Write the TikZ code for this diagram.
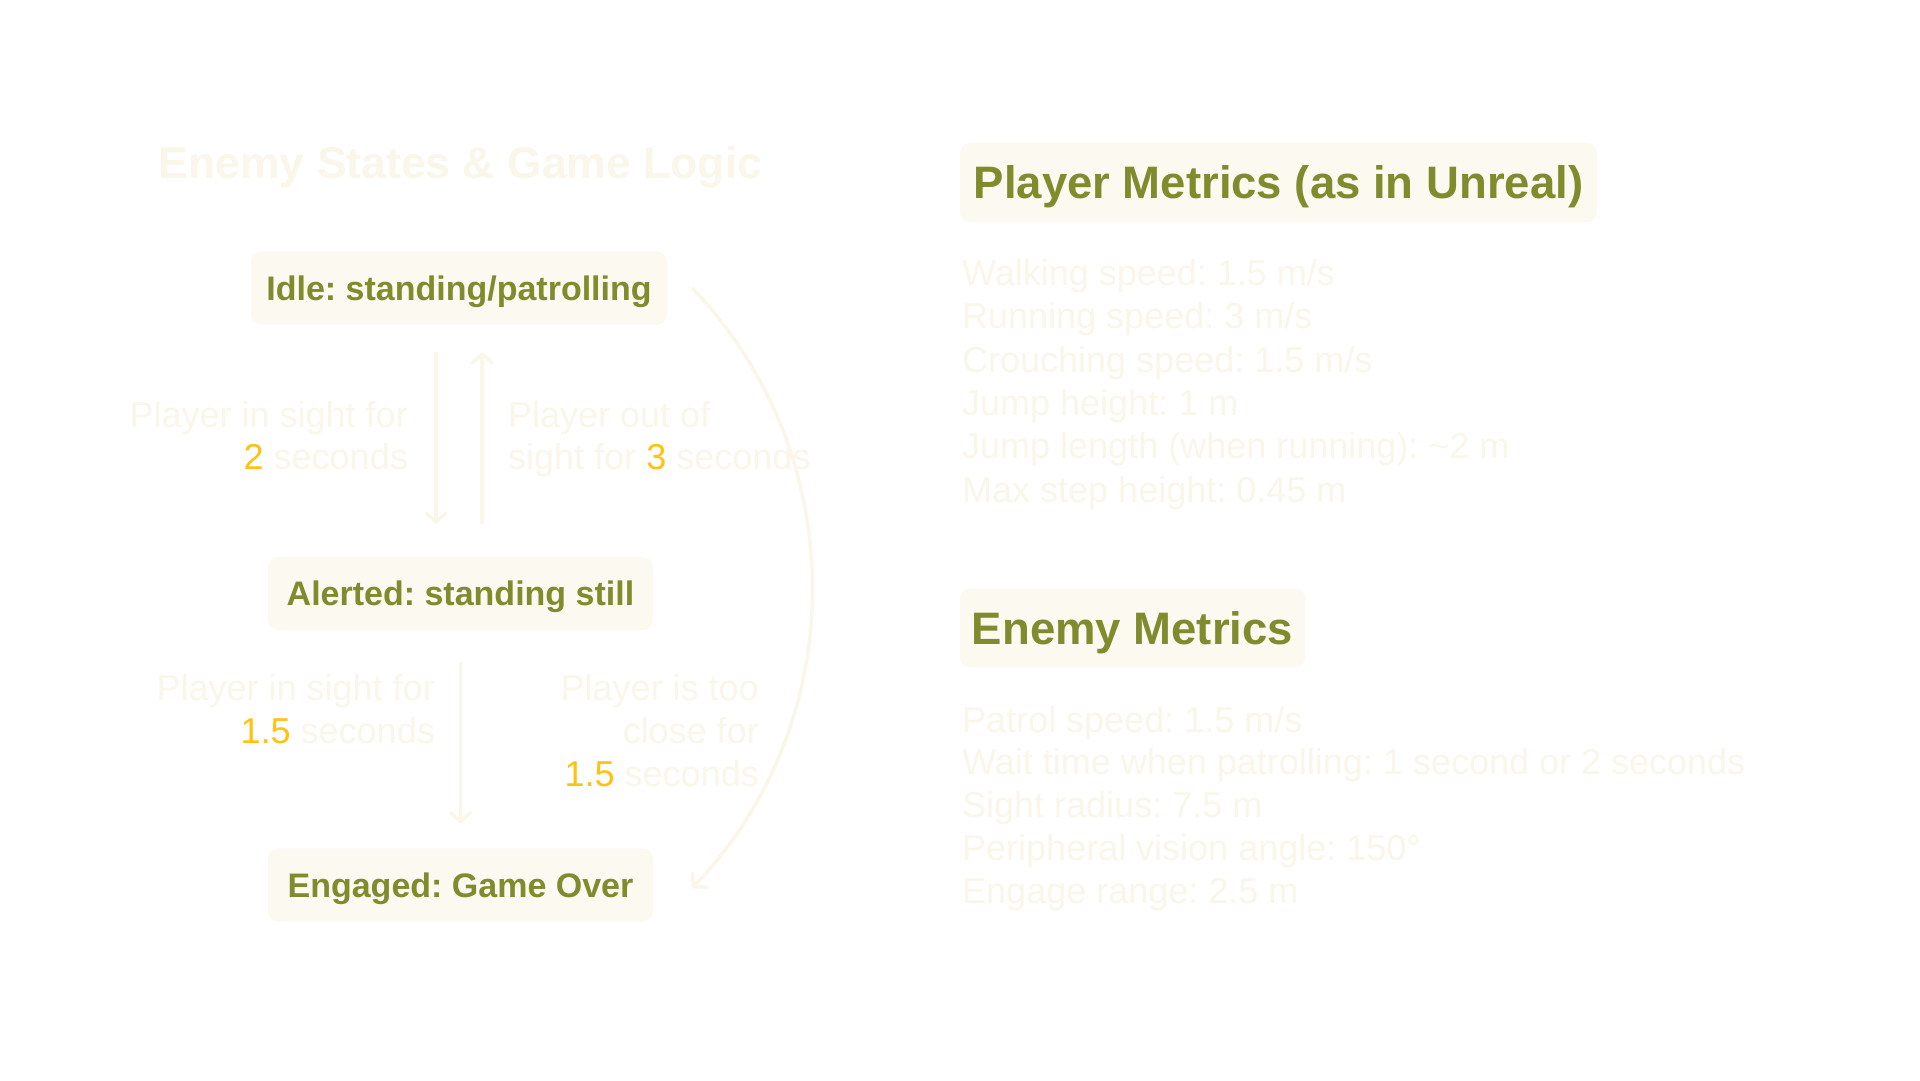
\documentclass[tikz,border=0pt]{standalone}
\usepackage{fontspec}
\setmainfont{Liberation Sans}
\frenchspacing
\usetikzlibrary{
  arrows.meta,
  positioning
}
\definecolor{olive}{HTML}{808B2E}
\definecolor{cream}{HTML}{FCF9F1}
\definecolor{faint}{HTML}{FAF6EA}
\definecolor{accent}{HTML}{FFC20E}
\tikzset{
  font=\rmfamily,
  state/.style={
    fill=cream,
    rounded corners=10pt,
    text=olive,
    font=\rmfamily\bfseries\fontsize{34}{40}\selectfont,
    minimum width=385pt,
    minimum height=73pt,
    text height=24.3pt,
    text depth=0pt,
    inner sep=0pt
  },
  heading/.style={
    fill=cream,
    rounded corners=10pt,
    text=olive,
    font=\rmfamily\bfseries\fontsize{45.5}{52}\selectfont,
    minimum height=79pt,
    text height=32.6pt,
    text depth=0pt,
    inner sep=0pt
  },
  title/.style={text=faint, font=\rmfamily\bfseries\fontsize{44.5}{52}\selectfont, inner sep=0pt},
  cond/.style={text=faint, font=\rmfamily\fontsize{36}{42}\selectfont, inner sep=0pt},
  metric list/.style={text=faint, font=\rmfamily\fontsize{36}{43.3}\selectfont, inner sep=0pt, align=left, anchor=base west},
  flow/.style={-{Straight Barb[length=9pt,width=20pt,line cap=round,line join=round]}, draw=faint, line width=3.5pt}
}
\newcommand{\num}[1]{{\color{accent}#1}}

\begin{document}
\begin{tikzpicture}[x=1pt,y=-1pt]
  \useasboundingbox[fill=white] (0,0) rectangle (1920,1080);

  % State machine
  \node[title, anchor=base] (logic) at (460.5,178) {Enemy States \& Game Logic};
  \node[state, minimum width=416pt] (idle) at (459,288) {Idle: standing/patrolling};
  \node[state] (alerted) at (460.5,593.5) {Alerted: standing still};
  \node[state] (engaged) at (460.5,885) {Engaged: Game Over};

  % Transition conditions (base = last line)
  \node[cond, align=right, anchor=base east] (seen2) at (408,469) {Player in sight for\\\num{2} seconds};
  \node[cond, align=left, anchor=base west] (lost3) at (508,469) {Player out of\\sight for \num{3} seconds};
  \node[cond, align=right, anchor=base east, font=\rmfamily\fontsize{36}{43}\selectfont] (seen15) at (435,743) {Player in sight for\\\num{1.5} seconds};
  \node[cond, align=right, anchor=base east, font=\rmfamily\fontsize{36}{43}\selectfont] (close15) at (759,786) {Player is too\\close for\\\num{1.5} seconds};

  % Transitions
  \draw[flow, shorten <=27.5pt, shorten >=33pt] ([xshift=-23pt]idle.south) -- ([xshift=-23pt]idle.south |- alerted.north);
  \draw[flow, shorten <=33pt, shorten >=27.5pt] ([xshift=23pt]idle.south |- alerted.north) -- ([xshift=23pt]idle.south);
  \draw[flow, shorten <=32pt, shorten >=25pt] (alerted.south) -- (engaged.north);
  \draw[flow] ([xshift=25pt]idle.east) .. controls +(160,167) and +(160,-167) .. ([shift={(39pt,-3pt)}]engaged.east);

  % Metrics
  \node[heading, minimum width=637pt] (player) at (1278.5,182.5) {Player Metrics (as in Unreal)};
  \node[metric list] (playerlist) at (962,502) {
    Walking speed: 1.5 m/s\\
    Running speed: 3 m/s\\
    Crouching speed: 1.5 m/s\\
    Jump height: 1 m\\
    Jump length (when running): \textasciitilde2 m\\
    Max step height: 0.45 m
  };
  \node[heading, minimum width=345pt] (enemy) at (1132.5,628) {Enemy Metrics};
  \node[metric list, font=\rmfamily\fontsize{36}{42.75}\selectfont] (enemylist) at (962,903) {
    Patrol speed: 1.5 m/s\\
    Wait time when patrolling: 1 second or 2 seconds\\
    Sight radius: 7.5 m\\
    Peripheral vision angle: 150°\\
    Engage range: 2.5 m
  };
\end{tikzpicture}
\end{document}
